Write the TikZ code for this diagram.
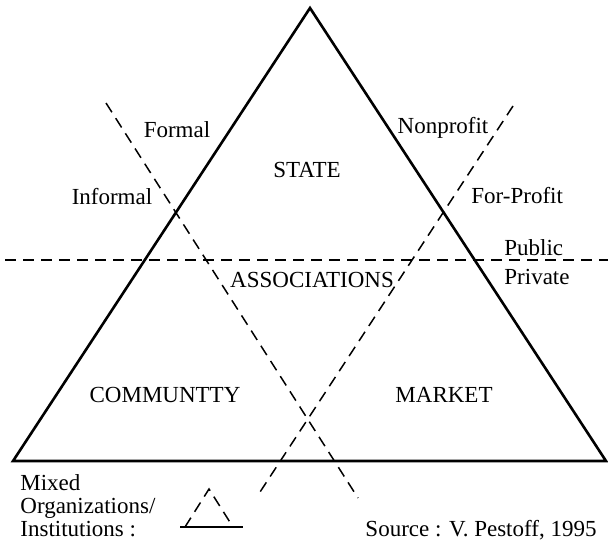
\documentclass[tikz,border=0pt]{standalone}
\usepackage{fontspec}
\setmainfont{Liberation Serif}

\begin{document}
\begin{tikzpicture}[
  x=0.5pt, y=-0.5pt,
  side/.style={line width=1.3pt},
  split/.style={line width=0.75pt, dash pattern=on 5.5pt off 3.5pt},
  lab/.style={font=\fontsize{11.5}{11.8}\selectfont, inner sep=1pt}
]

\useasboundingbox (0,0) rectangle (608,541);

% --- Corners of the big triangle ---
\coordinate (top) at (310,8);      % apex
\coordinate (bl)  at (13,461);     % bottom left
\coordinate (br)  at (606,461);    % bottom right

% --- Ends of the dashed dividers ---
\coordinate (pubL) at (5,260);     % public / private
\coordinate (pubR) at (608,260);
\coordinate (forA) at (106,103);   % formal / informal
\coordinate (forB) at (358,498);
\coordinate (proA) at (513,106);   % nonprofit / for-profit
\coordinate (proB) at (260,492);

% --- Small sign for mixed forms ---
\coordinate (mixL) at (180,527);
\coordinate (mixR) at (243,527);
\coordinate (mixA) at (185,527);
\coordinate (mixT) at (209,489);
\coordinate (mixB) at (233,527);

% Triangle
\draw[side] (bl) -- (top) -- (br) -- cycle;

% Dividers
\draw[split] (pubL) -- (pubR);
\draw[split] (forA) -- (forB);
\draw[split] (proA) -- (proB);

% Sectors
\node[lab] (state)  at (307,170) {STATE};
\node[lab] (assoc)  at (312,280) {ASSOCIATIONS};
\node[lab] (commun) at (165,395) {COMMUNTTY};
\node[lab] (market) at (444,395) {MARKET};

% Divider labels
\node[lab] (formal)   at (177,130) {Formal};
\node[lab] (informal) at (112,197) {Informal};
\node[lab] (nonprof)  at (443,128) {Nonprofit};
\node[lab, anchor=west] (forprof) at (469,196) {For-Profit};
\node[lab, anchor=west] (public)  at (502,248) {Public};
\node[lab, anchor=west] (private) at (502,277) {Private};

% Legend and source
\node[lab, anchor=base west, inner sep=0pt] (mixed1) at (20,490) {Mixed};
\node[lab, anchor=base west, inner sep=0pt] (mixed2) at (20,513) {Organizations/};
\node[lab, anchor=base west, inner sep=0pt] (mixed3) at (20,536) {Institutions :};
\draw[side] (mixL) -- (mixR);
\draw[split] (mixA) -- (mixT) -- (mixB);
\node[lab, anchor=base] (source) at (481,536) {Source : V. Pestoff, 1995};
\end{tikzpicture}
\end{document}
